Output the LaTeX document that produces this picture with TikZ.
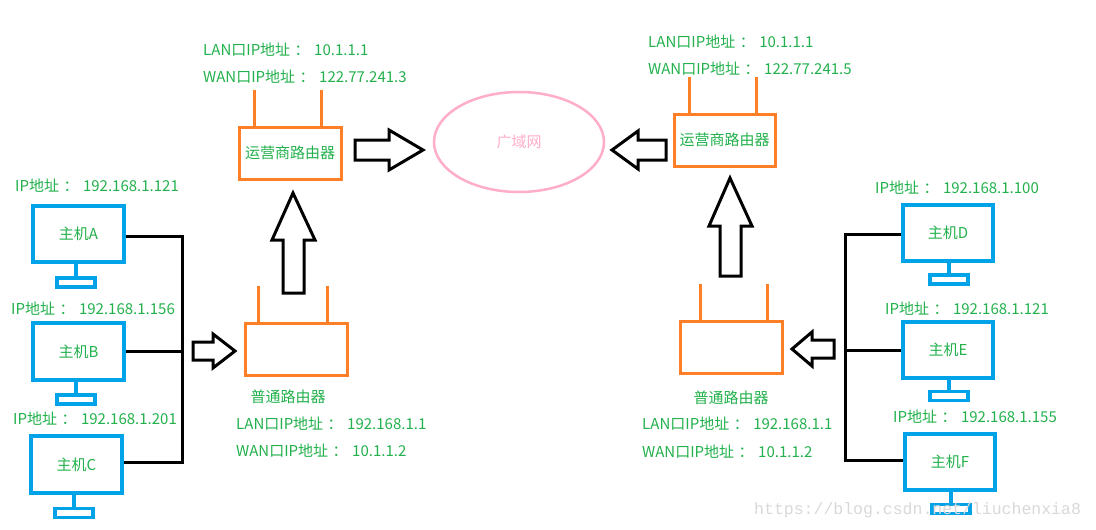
\documentclass[tikz,border=0pt]{standalone}
\usepackage{fontspec}
\usetikzlibrary{shapes.geometric}
\setmainfont{Noto Sans CJK SC}
\newfontfamily\wmfont{Liberation Mono}
\newcommand{\fc}{\hspace{0.3em}：\hspace{0.3em}}
\begin{document}
\definecolor{tgreen}{RGB}{34,177,76}
\definecolor{torange}{RGB}{255,127,39}
\definecolor{tblue}{RGB}{0,162,232}
\definecolor{tpink}{RGB}{255,174,201}
\begin{tikzpicture}[x=1pt,y=-1pt,
  lbl/.style={anchor=west,inner sep=0,text=tgreen,font=\fontsize{15}{17}\selectfont},
  rtr/.style={draw=torange,line width=3pt,inner sep=0,text=tgreen,font=\fontsize{15}{17}\selectfont},
  ant/.style={draw=torange,line width=3pt},
  host/.style={draw=tblue,line width=3.5pt,inner sep=0,text=tgreen,font=\fontsize{15}{17}\selectfont},
  hline/.style={draw=tblue,line width=3.5pt},
  bus/.style={draw=black,line width=3pt},
  harrow/.style={draw=black,line width=3pt,fill=white,line join=miter}]
\useasboundingbox (0,0) rectangle (1096,530);
\fill[white] (0,0) rectangle (1096,530);
% routers
\node[rtr,minimum width=102pt,minimum height=52pt] (cr1) at (290,153) {运营商路由器};
\draw[ant] (254,90) -- (254,127) (321,90) -- (321,127);
\node[lbl] (l1) at (203,50) {LAN口IP地址\fc 10.1.1.1};
\node[lbl] (w1) at (203,77) {WAN口IP地址\fc 122.77.241.3};
\node[rtr,minimum width=101pt,minimum height=52pt] (cr2) at (724.5,140) {运营商路由器};
\draw[ant] (689,77) -- (689,114) (756,77) -- (756,114);
\node[lbl] (l2) at (648,42) {LAN口IP地址\fc 10.1.1.1};
\node[lbl] (w2) at (648,69) {WAN口IP地址\fc 122.77.241.5};
\node[draw=tpink,line width=2.5pt,ellipse,minimum width=170pt,minimum height=100pt,text=tpink,font=\fontsize{15}{17}\selectfont] (wan) at (519,142) {广域网};
\node[rtr,minimum width=102pt,minimum height=52pt] (or1) at (296,349) {};
\draw[ant] (258,286) -- (258,323) (327,286) -- (327,323);
\node[text=tgreen,font=\fontsize{15}{17}\selectfont,inner sep=0] (ot1) at (288,397) {普通路由器};
\node[lbl] (l3) at (236,424) {LAN口IP地址\fc 192.168.1.1};
\node[lbl] (w3) at (236,451) {WAN口IP地址\fc 10.1.1.2};
\node[rtr,minimum width=102pt,minimum height=52pt] (or2) at (731,347) {};
\draw[ant] (700,284) -- (700,321) (767,284) -- (767,321);
\node[text=tgreen,font=\fontsize{15}{17}\selectfont,inner sep=0] (ot2) at (731,398) {普通路由器};
\node[lbl] (l4) at (642,424) {LAN口IP地址\fc 192.168.1.1};
\node[lbl] (w4) at (642,452) {WAN口IP地址\fc 10.1.1.2};
% hollow arrows
\draw[harrow] (355,140) -- (389,140) -- (389,130) -- (423,150) -- (389,170) -- (389,160) -- (355,160) -- cycle;
\draw[harrow] (666,140) -- (638,140) -- (638,131) -- (612,150) -- (638,169) -- (638,160) -- (666,160) -- cycle;
\draw[harrow] (283,293) -- (283,240) -- (272,240) -- (293,193) -- (315,240) -- (304,240) -- (304,293) -- cycle;
\draw[harrow] (720,276) -- (720,226) -- (709,226) -- (730,178) -- (752,226) -- (741,226) -- (741,276) -- cycle;
\draw[harrow] (193,342) -- (213,342) -- (213,334) -- (235,351) -- (213,368) -- (213,360) -- (193,360) -- cycle;
\draw[harrow] (834,340) -- (812,340) -- (812,332) -- (792,349) -- (812,366) -- (812,358) -- (834,358) -- cycle;
% hosts left
\node[host,minimum width=91pt,minimum height=56pt] (A) at (78.5,234) {主机A};
\node[host,minimum width=38pt,minimum height=9pt] (Ab) at (76,282.5) {};
\draw[hline] (Ab.north) -- (Ab.north |- A.south);
\node[lbl] (Al) at (15,186) {IP地址\fc 192.168.1.121};
\node[host,minimum width=91pt,minimum height=57pt] (B) at (78.5,351.5) {主机B};
\node[host,minimum width=38pt,minimum height=9pt] (Bb) at (76,399.5) {};
\draw[hline] (Bb.north) -- (Bb.north |- B.south);
\node[lbl] (Bl) at (11,309) {IP地址\fc 192.168.1.156};
\node[host,minimum width=91pt,minimum height=57pt] (C) at (76.5,464.5) {主机C};
\node[host,minimum width=38pt,minimum height=9pt] (Cb) at (74,513) {};
\draw[hline] (Cb.north) -- (Cb.north |- C.south);
\node[lbl] (Cl) at (13,419) {IP地址\fc 192.168.1.201};
\coordinate (bl1) at (182,236);
\coordinate (bl2) at (182,462);
\draw[bus] (A.east |- bl1) -- (bl1) -- (bl2) -- (C.east |- bl2);
\draw[bus] (B.east) -- (182,351.5);
% hosts right
\node[host,minimum width=90pt,minimum height=56pt] (D) at (948,233) {主机D};
\node[host,minimum width=38pt,minimum height=9pt] (Db) at (949,279.5) {};
\draw[hline] (Db.north) -- (Db.north |- D.south);
\node[lbl] (Dl) at (875,188) {IP地址\fc 192.168.1.100};
\node[host,minimum width=90pt,minimum height=56pt] (E) at (948,350) {主机E};
\node[host,minimum width=38pt,minimum height=9pt] (Eb) at (949,396) {};
\draw[hline] (Eb.north) -- (Eb.north |- E.south);
\node[lbl] (El) at (885,309) {IP地址\fc 192.168.1.121};
\node[host,minimum width=90pt,minimum height=56pt] (F) at (950,462) {主机F};
\node[host,minimum width=38pt,minimum height=9pt] (Fb) at (951,509) {};
\draw[hline] (Fb.north) -- (Fb.north |- F.south);
\node[lbl] (Fl) at (893,417) {IP地址\fc 192.168.1.155};
\coordinate (br1) at (845,234);
\coordinate (br2) at (845,460);
\draw[bus] (D.west |- br1) -- (br1) -- (br2) -- (F.west |- br2);
\draw[bus] (E.west) -- (845,350);
% watermark
\node[anchor=west,inner sep=0,text=black!15,font=\wmfont\fontsize{16.5}{18}\selectfont] (wm) at (754,510) {https://blog.csdn.net/liuchenxia8};
\end{tikzpicture}
\end{document}
